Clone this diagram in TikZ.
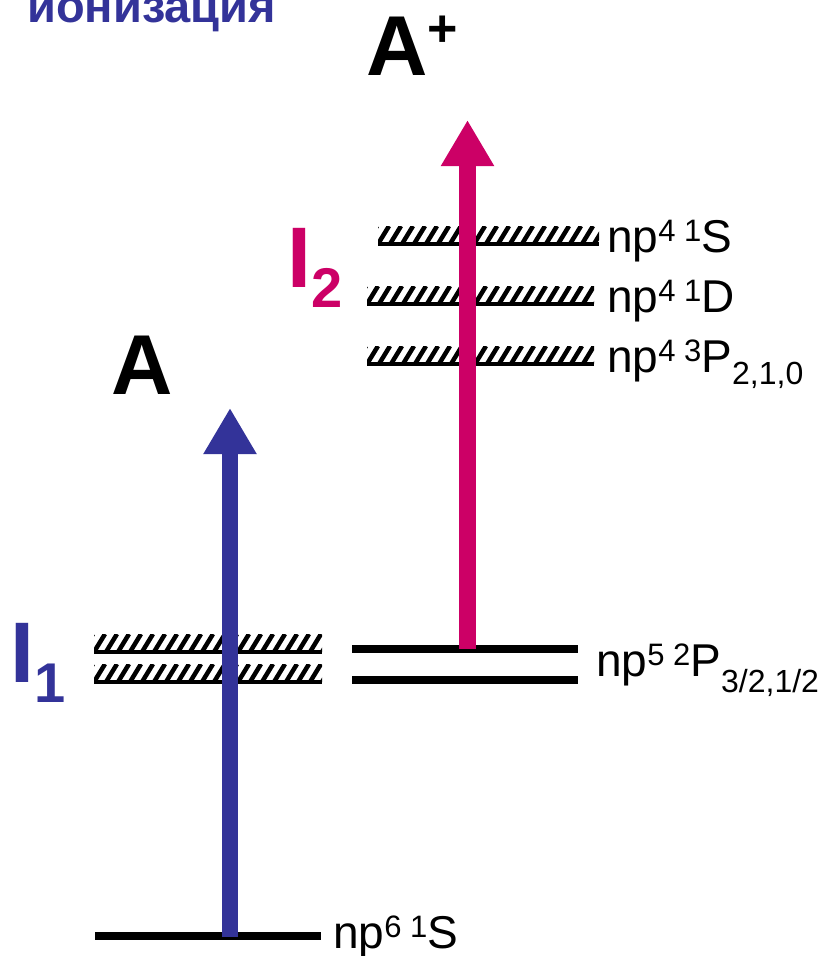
\documentclass[tikz,border=0pt]{standalone}
\usepackage{fontspec}
\setmainfont{Liberation Sans}
\usetikzlibrary{arrows.meta}
\definecolor{ionblue}{HTML}{333399}
\definecolor{ionmag}{HTML}{CC0066}
% superscript / subscript helpers for term symbols
\newcommand\tsup[1]{\raisebox{11pt}{\fontsize{31}{31}\selectfont #1}}
\newcommand\tgap{{\fontsize{31}{31}\selectfont\ }}
\newcommand\tsub[2]{\raisebox{-#1}{\fontsize{32}{32}\selectfont #2}}
\tikzset{
  level/.style={line width=7.5pt},
  bandline/.style={line width=4pt},
  hatch/.style={line width=4.5pt},
  term/.style={anchor=base west,inner sep=0pt,font=\fontsize{46}{46}\selectfont},
  bigsym/.style={anchor=base west,inner sep=0pt,font=\fontsize{85}{85}\selectfont\bfseries},
  photon/.style={line width=#1, -{Triangle[width=50pt,length=46pt]}},
}
% hatched continuum band: x1, x2, top, bottom line
\newcommand\hatchband[4]{%
  \begin{scope}
    \clip (#1,#3) rectangle (#2,#4);
    \foreach \k in {-1,...,21}
      \draw[hatch] ({#1+12*\k},{#4}) -- ++(11,{#3-#4});
  \end{scope}
  \draw[bandline] (#1,#4) -- (#2,#4);
}
\begin{document}
\begin{tikzpicture}[x=1pt,y=-1pt]
\useasboundingbox (0,0) rectangle (830,956);

% title
\node[anchor=base west,inner sep=0pt,text=ionblue,font=\fontsize{47}{47}\selectfont\bfseries]
  (title) at (27,22) {ионизация};

% species labels
\node[bigsym] (ion) at (366,75) {A\raisebox{29pt}{\fontsize{52}{52}\selectfont +}};
\node[bigsym] (atom) at (111,394) {A};

% ionisation energies
\node[anchor=base west,inner sep=0pt,text=ionmag,font=\fontsize{86}{86}\selectfont\bfseries]
  (i2) at (287,287) {I\raisebox{-20pt}{\fontsize{56}{56}\selectfont 2}};
\node[anchor=base west,inner sep=0pt,text=ionblue,font=\fontsize{86}{86}\selectfont\bfseries]
  (i1) at (10,682) {I\raisebox{-20pt}{\fontsize{56}{56}\selectfont 1}};

% left (atom) autoionising bands
\hatchband{94}{322}{634}{652}
\hatchband{94}{322}{664}{682}

% right (ion) np4 bands
\hatchband{378}{599}{226}{244}
\hatchband{367}{594}{286}{304}
\hatchband{367}{594}{346}{364}

% sharp levels
\draw[level] (95,936) -- (321,936);
\draw[level] (352,649) -- (578,649);
\draw[level] (352,680) -- (578,680);

% term labels
\node[term] (t1) at (607,252) {np\tsup{4}\tgap\tsup{1}S};
\node[term] (t2) at (607,312) {np\tsup{4}\tgap\tsup{1}D};
\node[term] (t3) at (607,372) {np\tsup{4}\tgap\tsup{3}P\tsub{12pt}{2,1,0}};
\node[term] (t4) at (596,676) {np\tsup{5}\tgap\tsup{2}P\tsub{16pt}{3/2,1/2}};
\node[term] (t5) at (333,948) {np\tsup{6}\tgap\tsup{1}S};

% excitation arrows
\coordinate (g) at (230,937);
\coordinate (gtop) at (230,408);
\coordinate (p) at (467.5,649);
\coordinate (ptop) at (467.5,120);
\draw[photon=16pt,draw=ionblue,fill=ionblue] (g) -- (gtop);
\draw[photon=17pt,draw=ionmag,fill=ionmag] (p) -- (ptop);
\end{tikzpicture}
\end{document}
